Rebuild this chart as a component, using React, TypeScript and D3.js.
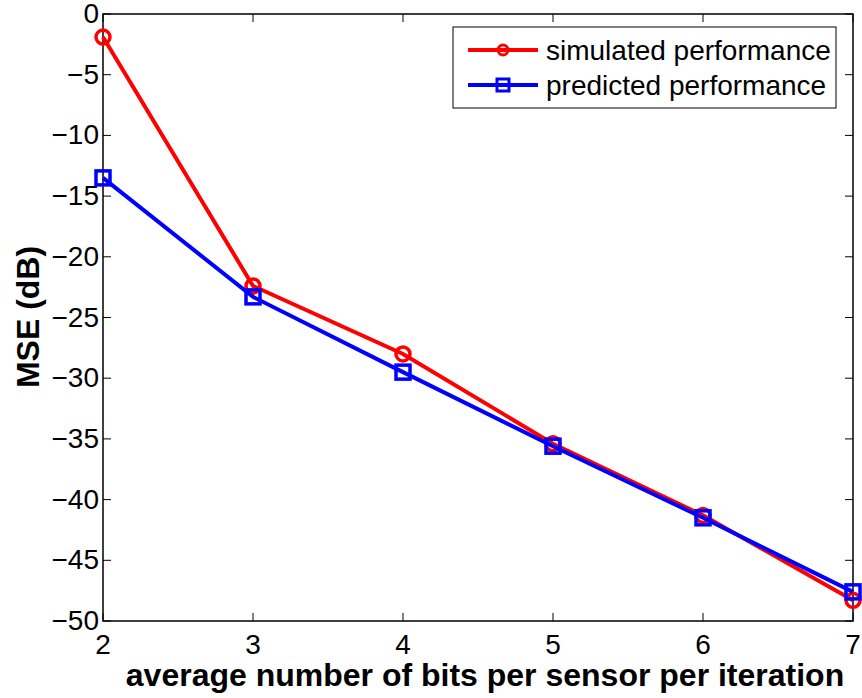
import React, { useEffect, useRef } from 'react';
import * as d3 from 'd3';

const bits = [2, 3, 4, 5, 6, 7];
const simulated = [-1.9, -22.4, -28.0, -35.4, -41.3, -48.3];
const predicted = [-13.5, -23.3, -29.5, -35.6, -41.5, -47.6];
const xTicks = [2, 3, 4, 5, 6, 7];
const yTicks = [0, -5, -10, -15, -20, -25, -30, -35, -40, -45, -50];

export default function App() {
  const svgRef = useRef<SVGSVGElement>(null);

  useEffect(() => {
    const width = 862;
    const height = 698;
    const left = 103, right = 853, top = 14, bottom = 621;
    const font = 'Liberation Sans, Arial, sans-serif';

    const svg = d3.select(svgRef.current)
      .attr('width', width)
      .attr('height', height);
    svg.selectAll('*').remove();

    const x = d3.scaleLinear().domain([2, 7]).range([left, right]);
    const y = d3.scaleLinear().domain([-50, 0]).range([bottom, top]);

    svg.append('rect').attr('width', width).attr('height', height).attr('fill', 'white');

    // ticks (inner, all four sides)
    const tl = 8;
    xTicks.forEach((t) => {
      svg.append('line').attr('x1', x(t)).attr('x2', x(t)).attr('y1', bottom).attr('y2', bottom - tl)
        .attr('stroke', 'black');
      svg.append('line').attr('x1', x(t)).attr('x2', x(t)).attr('y1', top).attr('y2', top + tl)
        .attr('stroke', 'black');
      svg.append('text').attr('x', x(t)).attr('y', bottom + 33).attr('text-anchor', 'middle')
        .attr('font-family', font).attr('font-size', 28).text(String(t));
    });
    yTicks.forEach((t) => {
      svg.append('line').attr('x1', left).attr('x2', left + tl).attr('y1', y(t)).attr('y2', y(t))
        .attr('stroke', 'black');
      svg.append('line').attr('x1', right).attr('x2', right - tl).attr('y1', y(t)).attr('y2', y(t))
        .attr('stroke', 'black');
      svg.append('text').attr('x', left - 4).attr('y', y(t) + 9).attr('text-anchor', 'end')
        .attr('font-family', font).attr('font-size', 28)
        .text(t < 0 ? '\u2212' + Math.abs(t) : String(t));
    });

    svg.append('rect').attr('x', left).attr('y', top).attr('width', right - left).attr('height', bottom - top)
      .attr('fill', 'none').attr('stroke', 'black').attr('stroke-width', 1.5);

    const line = d3.line<number>().x((d, i) => x(bits[i])).y((d) => y(d));

    svg.append('path').datum(simulated).attr('d', line).attr('fill', 'none')
      .attr('stroke', '#ff0000').attr('stroke-width', 4);
    simulated.forEach((v, i) => {
      svg.append('circle').attr('cx', x(bits[i])).attr('cy', y(v)).attr('r', 7)
        .attr('fill', 'none').attr('stroke', '#ff0000').attr('stroke-width', 3.5);
    });
    svg.append('path').datum(predicted).attr('d', line).attr('fill', 'none')
      .attr('stroke', '#0000ff').attr('stroke-width', 4);
    predicted.forEach((v, i) => {
      svg.append('rect').attr('x', x(bits[i]) - 7).attr('y', y(v) - 7).attr('width', 14).attr('height', 14)
        .attr('fill', 'none').attr('stroke', '#0000ff').attr('stroke-width', 3.5);
    });

    // legend
    const lg = svg.append('g');
    lg.append('rect').attr('x', 453).attr('y', 27).attr('width', 383).attr('height', 81)
      .attr('fill', 'white').attr('stroke', 'black').attr('stroke-width', 1);
    const entries = [
      { label: 'simulated performance', color: '#ff0000', shape: 'circle', yy: 50 },
      { label: 'predicted performance', color: '#0000ff', shape: 'square', yy: 85 },
    ];
    entries.forEach((e) => {
      lg.append('line').attr('x1', 468).attr('x2', 538).attr('y1', e.yy).attr('y2', e.yy)
        .attr('stroke', e.color).attr('stroke-width', 4);
      if (e.shape === 'circle') {
        lg.append('circle').attr('cx', 503).attr('cy', e.yy).attr('r', 5)
          .attr('fill', 'none').attr('stroke', e.color).attr('stroke-width', 3);
      } else {
        lg.append('rect').attr('x', 497).attr('y', e.yy - 6).attr('width', 12).attr('height', 12)
          .attr('fill', 'none').attr('stroke', e.color).attr('stroke-width', 3);
      }
      lg.append('text').attr('x', 546).attr('y', e.yy + 10).attr('font-family', font).attr('font-size', 28)
        .text(e.label);
    });

    svg.append('text').attr('x', 485).attr('y', 686).attr('text-anchor', 'middle')
      .attr('font-family', font).attr('font-size', 32).attr('font-weight', 'bold')
      .text('average number of bits per sensor per iteration');
    svg.append('text').attr('transform', `translate(39,317) rotate(-90)`)
      .attr('text-anchor', 'middle').attr('font-family', font).attr('font-size', 32).attr('font-weight', 'bold')
      .text('MSE (dB)');
  }, []);

  return <svg ref={svgRef} style={{ display: 'block', position: 'absolute', left: 0, top: 0 }}></svg>;
}
